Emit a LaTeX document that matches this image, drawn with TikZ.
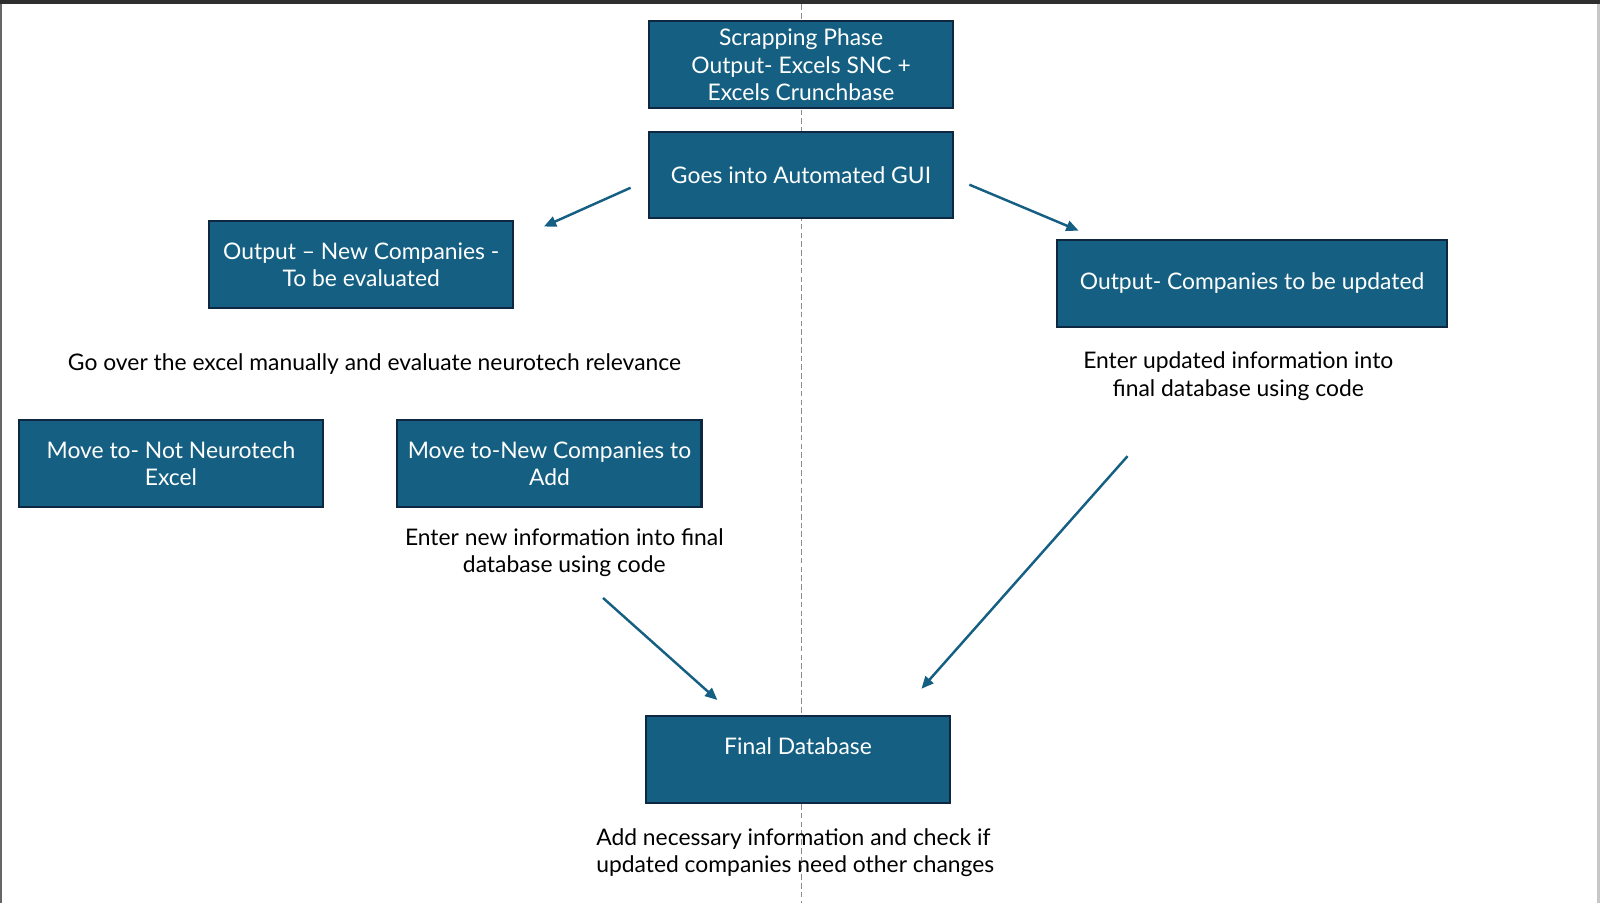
\documentclass[tikz,border=0pt]{standalone}
\usepackage{fontspec}
\setmainfont{Lato}
\usetikzlibrary{arrows.meta}
\definecolor{boxfill}{HTML}{156082}
\definecolor{boxline}{HTML}{0E2841}
\begin{document}
\begin{tikzpicture}[
  x=0.020408cm, y=-0.020408cm,
  every node/.style={font=\fontsize{13}{15.7}\selectfont},
  box/.style={rectangle, draw=boxline, line width=1.2pt, fill=boxfill, text=white,
    minimum width=6.08cm, minimum height=1.735cm, align=center, inner sep=0pt},
  note/.style={align=center, inner sep=0pt},
  link/.style={draw=boxfill, line width=1.4pt, -{Triangle[length=7pt,width=6pt]}}
  ]
\useasboundingbox (0,0) rectangle (1568,885);

% Screen frame and guide line
\fill[black!82] (0,0) rectangle (1568,4);
\fill[black!60] (0,4) rectangle (2,885);
\fill[black!22] (1565,4) rectangle (1568,885);
\draw[black!45, line width=0.6pt, dash pattern=on 3.2pt off 1.8pt] (785,4) -- (785,885);

% Top
\node[box] (scrap) at (785,63.5) {Scrapping Phase\\Output- Excels SNC +\\Excels Crunchbase};
\node[box] (gui) at (785,171.5) {Goes into Automated GUI};

% Left branch
\node[box] (newco) at (354,259.5) {Output -- New Companies -\\To be evaluated};
\node[note] (evalnote) at (367,357) {Go over the excel manually and evaluate neurotech relevance};
\node[box] (notneuro) at (167.5,454.5) {Move to- Not Neurotech\\Excel};
\node[box] (addco) at (538.5,454.5) {Move to-New Companies to\\Add};
\node[note] (newnote) at (553,541.5) {Enter new information into final\\database using code};

% Right branch
\node[box, minimum width=7.8cm] (upd) at (1227,277.5) {Output- Companies to be updated};
\node[note] (updnote) at (1213.5,368.5) {Enter updated information into\\final database using code};

% Bottom
\node[box] (final) at (782,744.5) {Final Database\\\mbox{}};
\node[note, align=left, anchor=west] (finalnote) at (584,835.5) {Add necessary information and check if\\updated companies need other changes};

% Arrow ends
\coordinate (gui-l) at (618,184);
\coordinate (newco-in) at (533,222);
\coordinate (gui-r) at (950,181);
\coordinate (upd-in) at (1057,226);
\coordinate (newnote-out) at (591,586);
\coordinate (final-l) at (703,686);
\coordinate (updnote-out) at (1105,447);
\coordinate (final-r) at (903,675);

\draw[link] (gui-l) -- (newco-in);
\draw[link] (gui-r) -- (upd-in);
\draw[link] (newnote-out) -- (final-l);
\draw[link] (updnote-out) -- (final-r);

\end{tikzpicture}
\end{document}
